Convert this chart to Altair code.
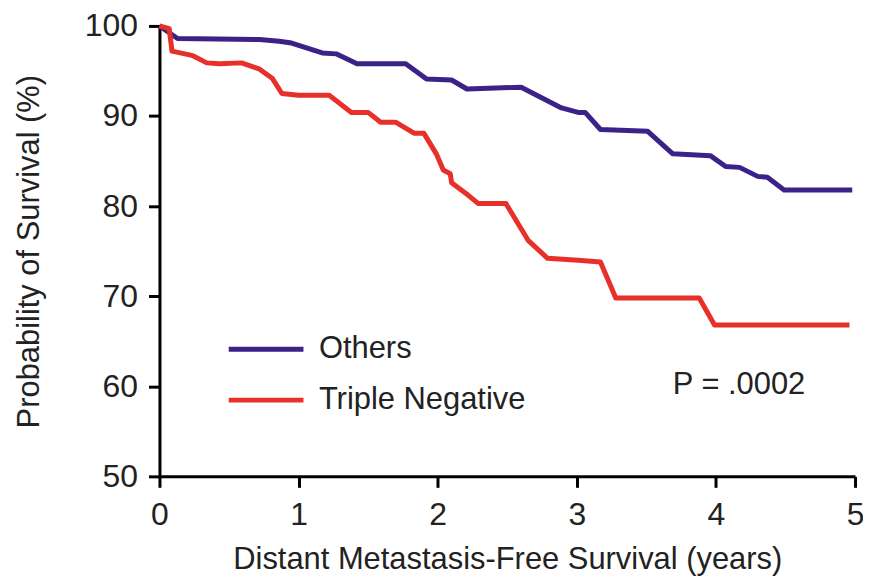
import altair as alt
import pandas as pd

# Kaplan-Meier style curves (years, survival %)
others_t = [0.0, 0.13, 0.72, 0.86, 0.95, 1.17, 1.27, 1.42, 1.77, 1.92, 2.10, 2.21, 2.60,
            2.89, 3.01, 3.06, 3.17, 3.51, 3.69, 3.96, 4.07, 4.17, 4.30, 4.37, 4.49, 4.98]
others_s = [100.0, 98.6, 98.5, 98.3, 98.1, 97.0, 96.9, 95.8, 95.8, 94.1, 94.0, 93.0, 93.2,
            90.9, 90.4, 90.4, 88.5, 88.3, 85.8, 85.6, 84.4, 84.3, 83.3, 83.2, 81.8, 81.8]

tn_t = [0.0, 0.07, 0.09, 0.24, 0.34, 0.43, 0.59, 0.72, 0.81, 0.88, 1.00, 1.22, 1.38, 1.50,
        1.59, 1.70, 1.83, 1.90, 1.99, 2.04, 2.09, 2.10, 2.22, 2.29, 2.49, 2.65, 2.79, 3.01,
        3.17, 3.28, 3.88, 3.99, 4.96]
tn_s = [100.0, 99.7, 97.2, 96.7, 95.9, 95.8, 95.9, 95.2, 94.2, 92.5, 92.3, 92.3, 90.4, 90.4,
        89.3, 89.3, 88.1, 88.1, 85.8, 84.0, 83.6, 82.6, 81.2, 80.3, 80.3, 76.2, 74.2, 74.0,
        73.8, 69.8, 69.8, 66.8, 66.8]

groups = ["Others", "Triple Negative"]
colors = ["#3b2288", "#e8302a"]

x_ticks = [0, 1, 2, 3, 4, 5]
y_ticks = [50, 60, 70, 80, 90, 100]

p_label = ["P = .0002"]
p_x = [3.69]
p_y = [59.1]

rows = []
for t, s in zip(others_t, others_s):
    rows.append({"t": t, "s": s, "g": groups[0]})
for t, s in zip(tn_t, tn_s):
    rows.append({"t": t, "s": s, "g": groups[1]})
df = pd.DataFrame(rows)
df["o"] = range(len(df))

FONT = "Liberation Sans"
TXT = "#222222"

xs = alt.Scale(domain=[0, 5], nice=False, zero=False)
ys = alt.Scale(domain=[50, 100], nice=False, zero=False)

lines = alt.Chart(df).mark_line(strokeWidth=5, strokeJoin="round", strokeCap="butt").encode(
    x=alt.X("t:Q", scale=xs,
            axis=alt.Axis(values=x_ticks, title="Distant Metastasis-Free Survival (years)",
                          titleX=349, titleY=92, titleBaseline="alphabetic", titleAlign="center",
                          labelPadding=12, labelFlush=False, format="d")),
    y=alt.Y("s:Q", scale=ys,
            axis=alt.Axis(values=y_ticks, title="Probability of Survival (%)",
                          titleX=-121, titleY=226, titleAngle=-90, titleBaseline="alphabetic",
                          titleAlign="center", labelPadding=11, labelFlush=False, format="d")),
    color=alt.Color("g:N", scale=alt.Scale(domain=groups, range=colors),
                    legend=alt.Legend(orient="none", legendX=67, legendY=309, title=None,
                                      symbolType="stroke", symbolSize=5625, symbolStrokeWidth=5,
                                      labelFontSize=31, labelFont=FONT, labelColor=TXT,
                                      labelLimit=0, labelOffset=13, clipHeight=31,
                                      rowPadding=19, padding=0)),
    order="o:Q",
)

ptext = alt.Chart(pd.DataFrame({"label": p_label, "x": p_x, "y": p_y})).mark_text(
    align="left", baseline="alphabetic", fontSize=31, font=FONT, color=TXT
).encode(x=alt.X("x:Q", scale=xs), y=alt.Y("y:Q", scale=ys), text="label:N")

chart = (lines + ptext).properties(
    width=698, height=452,
    autosize=alt.AutoSizeParams(type="none"),
    padding={"left": 152, "top": 17, "right": 8, "bottom": 100},
).configure(background="white").configure_view(stroke=None).configure_axis(
    grid=False, domainColor="black", domainWidth=3, tickColor="black", tickWidth=3,
    tickSize=11, labelFontSize=32, labelFont=FONT, labelColor=TXT,
    titleFontSize=31, titleFont=FONT, titleColor=TXT, titleFontWeight="normal",
)

chart.save("out.html", embed_options={"renderer": "svg", "actions": False})
